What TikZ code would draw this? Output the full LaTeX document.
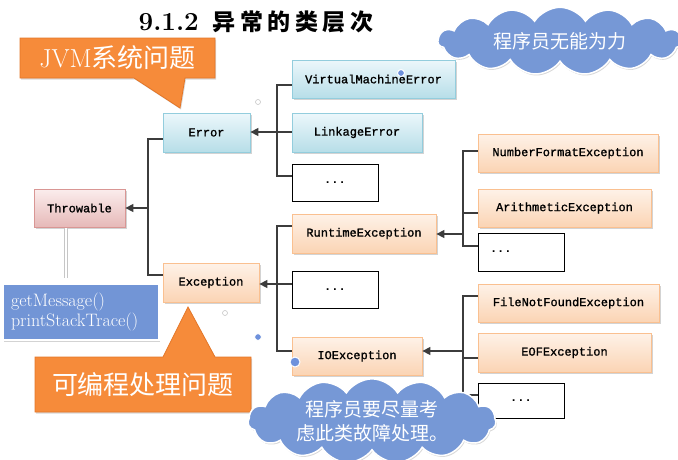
\documentclass[tikz,border=0pt]{standalone}
\usepackage{fontspec}
\setmonofont{Liberation Mono}
\newfontfamily\boxfont[FakeBold=1.2]{Liberation Mono}
\newfontfamily\cjk{Noto Sans CJK SC}
\usetikzlibrary{arrows.meta,shapes.symbols,shadows,calc}
\definecolor{errdraw}{RGB}{147,205,221}
\definecolor{errtop}{RGB}{236,247,251}
\definecolor{errbot}{RGB}{183,222,232}
\definecolor{thrdraw}{RGB}{217,150,148}
\definecolor{thrtop}{RGB}{251,237,237}
\definecolor{thrbot}{RGB}{230,185,184}
\definecolor{excdraw}{RGB}{250,192,144}
\definecolor{exctop}{RGB}{254,242,232}
\definecolor{excbot}{RGB}{251,212,180}
\definecolor{orangefill}{RGB}{246,139,58}
\definecolor{orangeedge}{RGB}{228,118,40}
\definecolor{cloudblue}{RGB}{118,152,214}
\definecolor{methblue}{RGB}{114,149,214}
\definecolor{linegray}{RGB}{60,60,60}
\definecolor{handleblue}{RGB}{110,145,220}
\begin{document}
\begin{tikzpicture}[x=1pt,y=-1pt,
  box/.style={draw, line width=0.8pt, minimum height=38pt, inner sep=0pt,
    font=\boxfont\fontsize{12}{12}\selectfont,
    drop shadow={shadow xshift=1.5pt, shadow yshift=-2pt, opacity=0.35, fill=gray}},
  errbox/.style={box, draw=errdraw, top color=errtop, bottom color=errbot},
  thrbox/.style={box, draw=thrdraw, top color=thrtop, bottom color=thrbot},
  excbox/.style={box, draw=excdraw, top color=exctop, bottom color=excbot},
  dotbox/.style={draw=black, line width=1pt, fill=white, minimum width=86pt,
    minimum height=37pt, inner sep=0pt, font=\ttfamily\bfseries\fontsize{12}{12}\selectfont},
  conn/.style={draw=linegray, line width=1.3pt},
  arr/.style={conn, -{Triangle[length=8pt,width=8pt]}},
  callout/.style={fill=orangefill, draw=orangeedge, line width=0.8pt,
    drop shadow={shadow xshift=1pt, shadow yshift=-1.5pt, opacity=0.3, fill=gray}},
  callouttext/.style={text=white, inner sep=0pt, font=\fontsize{26}{26}\selectfont},
  cloudshape/.style={cloud, cloud puffs=15, cloud puff arc=115, aspect=4,
    fill=cloudblue, draw=white, line width=1.5pt, text=white, inner sep=0pt,
    drop shadow={shadow xshift=1pt, shadow yshift=-1.5pt, opacity=0.3, fill=gray}},
  handle/.style={circle, inner sep=0pt, minimum size=7pt, fill=handleblue, draw=white, line width=1pt},
  smallh/.style={circle, inner sep=0pt, minimum size=5pt, fill=white, draw=gray!45, line width=0.6pt}
]
\useasboundingbox (0,0) rectangle (678,459);

% title
\node[inner sep=0pt] (title) at (256,22)
  {{\bfseries\fontsize{26}{26}\selectfont 9.1.2}\hspace{14pt}{\cjk\bfseries\fontsize{23}{23}\selectfont
   异\hspace{4.5pt}常\hspace{4.5pt}的\hspace{4.5pt}类\hspace{4.5pt}层\hspace{4.5pt}次}};

% boxes
\node[thrbox, minimum width=91pt] (throw) at (79.5,208) {Throwable};
\node[errbox, minimum width=87pt, minimum height=39pt] (error) at (206.5,132.5) {Error};
\node[excbox, minimum width=96pt, minimum height=39pt] (exc) at (211,282.5) {Exception};
\node[errbox, minimum width=163pt] (vme) at (373.5,79) {VirtualMachineError};
\node[errbox, minimum width=130pt, minimum height=39pt] (link) at (357,132.5) {LinkageError};
\node[dotbox] (dotsE) at (335,182.5) {...};
\node[excbox, minimum width=144pt, minimum height=39pt] (rte) at (364,233.5) {RuntimeException};
\node[dotbox] (dotsX) at (335,289.5) {...};
\node[excbox, minimum width=130pt] (ioe) at (357,356) {IOException};
\node[excbox, minimum width=180pt] (nfe) at (568,153) {NumberFormatException};
\node[excbox, minimum width=173pt] (ae) at (564.5,208) {ArithmeticException};
\node[dotbox, minimum height=38pt, text width=62pt, align=left] (dotsR) at (521,252) {...};
\node[excbox, minimum width=181pt] (fnf) at (568.5,303) {FileNotFoundException};
\node[excbox, minimum width=173pt, minimum height=39pt] (eof) at (564.5,352.5) {EOFException};
\node[dotbox, minimum height=35pt] (dotsI) at (521,400.5) {...};

% bus points
\coordinate (busT) at (148,208);
\coordinate (busE) at (277,132);
\coordinate (busX) at (277,284);
\coordinate (busR) at (463,234);
\coordinate (busI) at (463,351);

% connectors
\draw[conn] (error.west |- 0,139) -| (busT);
\draw[conn] (exc.west |- 0,275) -| (busT);
\draw[arr] (busT) -- (throw.east);

\draw[conn] (vme.west |- 0,85) -| (busE);
\draw[conn] (link.west |- 0,132) -- (busE);
\draw[conn] (dotsE.west |- 0,176) -| (busE);
\draw[arr] (busE) -- (busE -| error.east);

\draw[conn] (rte.west |- 0,226) -| (busX);
\draw[conn] (dotsX.west |- 0,284) -- (busX);
\draw[conn] (ioe.west |- 0,351) -| (busX);
\draw[arr] (busX) -- (busX -| exc.east);

\draw[conn] (nfe.west |- 0,151) -| (busR);
\draw[conn] (ae.west |- 0,213) -| (busR);
\draw[conn] (dotsR.west |- 0,246) -| (busR);
\draw[arr] (busR) -- (busR -| rte.east);

\draw[conn] (fnf.west |- 0,296) -| (busI);
\draw[conn] (eof.west |- 0,358) -| (busI);
\draw[conn] (dotsI.west |- 0,395) -| (busI);
\draw[arr] (busI) -- (busI -| ioe.east);

% methods box
\node[fill=methblue, draw=white, line width=1.5pt, minimum width=156pt, minimum height=56pt,
  text width=140pt, align=left, inner sep=0pt, text=white, font=\fontsize{18}{20}\selectfont,
  drop shadow={shadow xshift=1pt, shadow yshift=-1.5pt, opacity=0.35, fill=gray}]
  (meth) at (81,312) {getMessage()\\printStackTrace()};
\draw[draw=gray!45, line width=0.6pt, double=white, double distance=2.5pt, shorten <=1pt, shorten >=5pt]
  (throw.south -| 66,0) -- (meth.north -| 66,0);

% callouts
\path[callout] (20,38) -- (215,38) -- (215,78) -- (185,78) -- (180,108) -- (134,78) -- (20,78) -- cycle;
\node[callouttext] (jvm) at (117.5,58) {JVM{\cjk 系统问题}};
\path[callout] (35,357) -- (163,357) -- (188,307) -- (215,357) -- (251,357) -- (251,412) -- (35,412) -- cycle;
\node[callouttext] (prog) at (143,385) {\cjk 可编程处理问题};

% clouds
\node[cloudshape, minimum width=244pt, minimum height=56pt, font=\cjk\fontsize{19}{19}\selectfont]
  (c1) at (560,41) {程序员无能为力};
\node[cloudshape, minimum width=248pt, minimum height=72pt, align=center,
  font=\cjk\fontsize{19}{24}\selectfont]
  (c2) at (372,421) {程序员要尽量考\\虑此类故障处理。};

% handles
\node[smallh] (h1) at (258,102) {};
\node[handle] (h2) at (401,73) {};
\node[smallh] (h3) at (225,313) {};
\node[handle] (h4) at (258,337) {};
\node[handle, minimum size=10pt] (h5) at (295,362) {};
\end{tikzpicture}
\end{document}
